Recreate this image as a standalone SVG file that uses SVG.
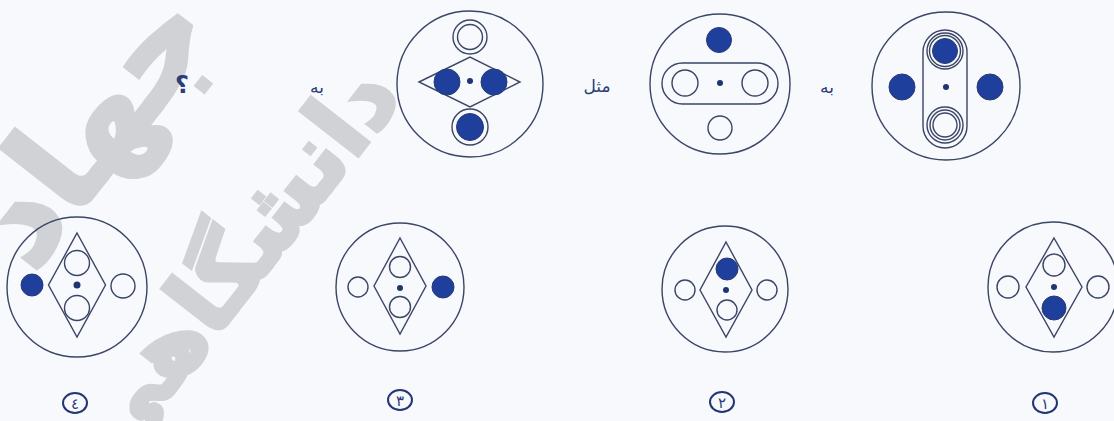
<svg xmlns="http://www.w3.org/2000/svg" width="1114" height="421" viewBox="0 0 1114 421">
<style>
.o{fill:none;stroke:#3b4566;stroke-width:1.4}
.f{fill:#1f3f9c;stroke:#2c3a72;stroke-width:1}
.d{fill:#1f3470}
.t{font-family:"DejaVu Sans",sans-serif;fill:#2b3d78;text-anchor:middle}
.wm{font-family:"DejaVu Sans",sans-serif;font-weight:bold;fill:#d0d2d6;stroke:#d0d2d6;stroke-width:4;text-anchor:middle}
.lb{fill:none;stroke:#233574;stroke-width:2}
</style>
<rect width="1114" height="421" fill="#f7f9fc"/>
<g id="watermark" transform="translate(232,262) rotate(-52)">
<text class="wm" x="0" y="34" font-size="96">دانشگاهی</text>
<text class="wm" x="20" y="-150" font-size="135">جهاد</text>
</g>
<g id="texts">
<text class="t" x="182" y="93" font-size="24" font-weight="bold">؟</text>
<text class="t" x="317" y="93" font-size="17">به</text>
<text class="t" x="597" y="92" font-size="17">مثل</text>
<text class="t" x="827" y="93" font-size="17">به</text>
</g>
<g id="figA">
<circle class="o" cx="946" cy="86" r="74"/>
<rect class="o" x="923" y="30" width="44" height="118" rx="22"/>
<circle class="o" cx="945" cy="51" r="18"/>
<circle class="o" cx="945" cy="51" r="15.5"/>
<circle class="f" cx="945" cy="51" r="12.5"/>
<circle class="o" cx="945" cy="125" r="18"/>
<circle class="o" cx="945" cy="125" r="15"/>
<circle class="o" cx="945" cy="125" r="12"/>
<circle class="f" cx="902" cy="87" r="13"/>
<circle class="f" cx="990" cy="87" r="13"/>
<circle class="d" cx="946" cy="87" r="3"/>
</g>
<g id="figB">
<circle class="o" cx="720" cy="84" r="70"/>
<circle class="f" cx="719" cy="40" r="12.5"/>
<rect class="o" x="662" y="63" width="116" height="41" rx="20.5"/>
<circle class="o" cx="685" cy="83" r="13"/>
<circle class="o" cx="755" cy="83" r="13"/>
<circle class="d" cx="720" cy="83" r="3"/>
<circle class="o" cx="720" cy="128" r="12"/>
</g>
<g id="figC">
<circle class="o" cx="470" cy="84" r="73"/>
<circle class="o" cx="470" cy="37" r="17"/>
<circle class="o" cx="470" cy="37" r="12.5"/>
<path class="o" d="M419,82 L470,57 L520,82 L470,107 Z"/>
<circle class="f" cx="447" cy="82" r="13"/>
<circle class="f" cx="494" cy="82" r="13"/>
<circle class="d" cx="470" cy="81" r="3"/>
<circle class="o" cx="470" cy="127" r="18"/>
<circle class="f" cx="470" cy="127" r="13.5"/>
</g>
<g id="opt4">
<circle class="o" cx="77" cy="287" r="70"/>
<path class="o" d="M77,233 L105.5,285 L77,337 L48.5,285 Z"/>
<circle class="o" cx="77" cy="263" r="12.5"/>
<circle class="o" cx="77" cy="308" r="12.5"/>
<circle class="d" cx="77" cy="285" r="3.5"/>
<circle class="f" cx="32" cy="285" r="11"/>
<circle class="o" cx="123" cy="286" r="12"/>
<ellipse class="lb" cx="75" cy="403" rx="12" ry="10"/>
<text class="t" x="75" y="409" font-size="15" fill="#233574">٤</text>
</g>
<g id="opt3">
<circle class="o" cx="400" cy="287" r="64"/>
<path class="o" d="M400,238 L426,286 L400,334 L374,286 Z"/>
<circle class="o" cx="400" cy="267" r="10.5"/>
<circle class="o" cx="400" cy="307" r="10.5"/>
<circle class="d" cx="400" cy="288" r="3"/>
<circle class="o" cx="358" cy="287" r="10"/>
<circle class="f" cx="443" cy="287" r="11"/>
<ellipse class="lb" cx="400" cy="400" rx="12" ry="10"/>
<text class="t" x="400" y="406" font-size="15">٣</text>
</g>
<g id="opt2">
<circle class="o" cx="725" cy="289" r="63"/>
<path class="o" d="M726,242 L752,290 L726,337 L700,290 Z"/>
<circle class="f" cx="727" cy="269" r="11"/>
<circle class="o" cx="727" cy="310" r="10"/>
<circle class="d" cx="726" cy="290" r="3"/>
<circle class="o" cx="685" cy="290" r="10"/>
<circle class="o" cx="767" cy="290" r="10"/>
<ellipse class="lb" cx="722" cy="402" rx="12" ry="10"/>
<text class="t" x="722" y="408" font-size="15">٢</text>
</g>
<g id="opt1">
<circle class="o" cx="1053" cy="287" r="65"/>
<path class="o" d="M1054,238 L1082,287 L1054,337 L1026,287 Z"/>
<circle class="o" cx="1054" cy="265" r="11"/>
<circle class="f" cx="1054" cy="308" r="12"/>
<circle class="d" cx="1054" cy="287" r="3"/>
<circle class="o" cx="1008" cy="287" r="11"/>
<circle class="o" cx="1098" cy="287" r="11"/>
<ellipse class="lb" cx="1045" cy="403" rx="12" ry="10"/>
<text class="t" x="1045" y="409" font-size="15">١</text>
</g>
</svg>
